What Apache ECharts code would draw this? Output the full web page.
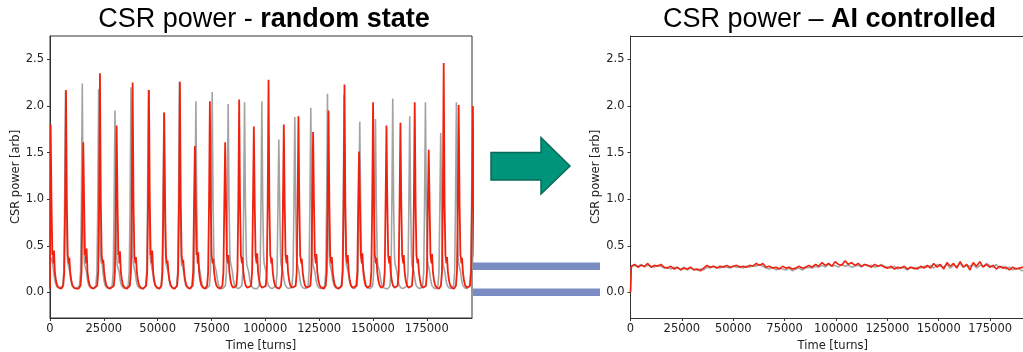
<!DOCTYPE html>
<html><head><meta charset="utf-8">
<script src="https://cdn.jsdelivr.net/npm/echarts@6/dist/echarts.min.js"></script>
<style>html,body{margin:0;padding:0;background:#fff}#c{width:1023px;height:352px}</style>
</head><body><div id="c"></div>
<script>
// ---- tick labels ----
const xTicks = [0, 25000, 50000, 75000, 100000, 125000, 150000, 175000];
const yTicks = [0, 0.5, 1.0, 1.5, 2.0, 2.5];
const levelMarks = [0.28, 0.0];

// ---- random state: burst peaks (turns, height) ----
const redPeakT = [300, 7430, 15450, 23200, 30950, 38380, 45950, 53050, 60330, 67300, 74260, 81360, 87860, 94680, 101500, 108600, 115400, 122200, 129350, 136770, 143550, 150050, 156270, 162760, 169400, 175900, 182860, 189820, 196400];
const redPeakV = [1.80, 2.17, 1.61, 2.35, 1.79, 2.25, 2.17, 1.93, 2.26, 1.57, 2.05, 1.61, 2.07, 1.78, 2.28, 1.80, 1.89, 1.72, 1.95, 2.23, 1.51, 2.04, 1.79, 1.82, 2.04, 1.53, 2.46, 2.01, 2.00];
const redBumpV = [0.45, 0.37, 0.47, 0.35, 0.44, 0.38, 0.45, 0.34, 0.35, 0.43, 0.36, 0.40, 0.38, 0.42, 0.37, 0.40, 0.36, 0.41, 0.38, 0.40, 0.42, 0.37, 0.39, 0.40, 0.36, 0.41, 0.38, 0.37, 0.35];

const grayPeakT = [7200, 14990, 22600, 30170, 37600, 45700, 52900, 60100, 67760, 75330, 82750, 90360, 98400, 106280, 113700, 121130, 128880, 136600, 143870, 151160, 159190, 167080, 174370, 181470, 188750, 196200];
const grayPeakV = [2.16, 2.24, 2.18, 1.95, 2.20, 2.17, 1.93, 2.26, 2.05, 2.15, 2.02, 2.04, 2.05, 1.64, 1.88, 1.98, 2.13, 2.12, 1.83, 1.86, 2.08, 1.89, 2.04, 1.71, 2.04, 2.00];
const grayBumpV = [0.32, 0.30, 0.34, 0.29, 0.31, 0.33, 0.30, 0.28, 0.32, 0.30, 0.33, 0.29, 0.31, 0.30, 0.32, 0.29, 0.31, 0.30, 0.33, 0.30, 0.31, 0.29, 0.32, 0.30, 0.31, 0.30];
const grayLead = [[0, 0.34], [700, 0.37], [1300, 0.30], [1900, 0.18], [2500, 0.10], [3200, 0.06], [4200, 0.045]];

// typical burst profile (offset in turns, value)
const riseShape = [[-2200, 0.04], [-1300, 0.07], [-800, 0.22], [-400, 0.95]];
const fallShape = [[400, 0.95], [800, 0.40]];
const bumpShape = [[1050, null], [1300, 0.31], [1550, null]];
const decayShape = [[1950, 0.22], [2450, 0.13], [3000, 0.075], [3800, 0.05], [4800, 0.04]];

// ---- AI controlled: samples every 1600 turns starting at 400 ----
const aiStep = 1600, aiStart = 400;
const aiRed = [0.28,0.30,0.27,0.29,0.28,0.31,0.27,0.29,0.28,0.30,
 0.27,0.26,0.28,0.25,0.27,0.24,0.26,0.25,0.27,0.24,
 0.25,0.23,0.26,
 0.29,0.27,0.28,0.26,0.28,0.27,0.29,0.27,0.28,0.29,0.27,0.28,0.27,0.29,
 0.28,0.31,0.29,0.31,
 0.27,0.28,0.26,0.27,0.25,0.28,0.26,0.27,0.25,0.26,0.28,0.26,0.27,0.29,
 0.27,0.30,0.28,0.32,0.29,0.31,0.28,0.33,0.30,0.29,0.34,0.30,0.32,0.29,
 0.31,0.28,0.30,0.29,0.27,0.30,0.28,0.29,0.27,
 0.26,0.28,0.25,0.27,0.26,0.28,0.25,0.27,0.26,0.25,0.28,0.26,
 0.29,0.26,0.31,0.27,0.30,0.25,0.32,0.28,0.31,0.26,0.33,0.27,0.30,0.24,0.32,0.28,0.33,0.27,0.30,
 0.27,0.29,0.25,0.28,0.26,0.27,0.24,0.27,0.25,0.26,0.27,0.24,0.26,0.25];
const aiGray = [0.27,0.29,0.28,0.30,0.27,0.29,0.28,0.27,0.29,0.28,
 0.26,0.27,0.25,0.27,0.26,0.25,0.27,0.24,0.26,0.25,
 0.24,0.25,0.24,
 0.27,0.26,0.28,0.27,0.26,0.28,0.27,0.26,0.28,0.27,0.28,0.26,0.28,0.27,
 0.29,0.28,0.30,0.28,
 0.26,0.25,0.27,0.24,0.26,0.25,0.24,0.26,0.23,0.25,0.26,0.24,0.26,0.27,
 0.26,0.28,0.27,0.29,0.27,0.30,0.28,0.29,0.27,0.30,0.28,0.29,0.27,0.28,
 0.29,0.27,0.30,0.28,0.29,0.27,0.28,0.30,0.28,
 0.27,0.26,0.28,0.25,0.27,0.26,0.24,0.27,0.25,0.27,0.26,0.28,
 0.27,0.29,0.26,0.30,0.28,0.27,0.30,0.26,0.29,0.28,0.31,0.27,0.29,0.28,0.30,0.26,0.29,0.28,0.31,
 0.29,0.27,0.30,0.26,0.28,0.25,0.27,0.24,0.26,0.25,0.23,0.26,0.24,0.25];

const X_MAX = 196000, X_MAX_VISIBLE_RIGHT = 191000, Y_MIN = -0.275, Y_MAX = 2.75;

function buildBursts(peakT, peakV, bumpV, lead) {
  const pts = lead.slice();
  for (let i = 0; i < peakT.length; i++) {
    const t0 = peakT[i];
    const prevEnd = pts.length ? pts[pts.length - 1][0] : -Infinity;
    const nextStart = i + 1 < peakT.length ? peakT[i + 1] + riseShape[0][0] : Infinity;
    riseShape.forEach(([dt, v]) => { if (t0 + dt > prevEnd) pts.push([t0 + dt, v]); });
    pts.push([t0, peakV[i]]);
    fallShape.forEach(([dt, v]) => pts.push([t0 + dt, v]));
    bumpShape.forEach(([dt, v]) => pts.push([t0 + dt, v === null ? bumpV[i] : v]));
    decayShape.forEach(([dt, v]) => { if (t0 + dt < nextStart - 200) pts.push([t0 + dt, v]); });
  }
  return pts;
}
function buildAI(vals) {
  return [[0, 0]].concat(vals.map((v, i) => [aiStart + i * aiStep, v]));
}

const FONT = 'DejaVu Sans';
const axisCol = '#333';
function xAx(gi, max, namePad) {
  return {
    type: 'value', gridIndex: gi, min: 0, max: max,
    name: 'Time [turns]', nameLocation: 'middle', nameGap: 20,
    nameTextStyle: { fontFamily: FONT, fontSize: 11.5, color: '#222', padding: namePad },
    axisLine: { show: true, onZero: false, lineStyle: { color: axisCol, width: 1 } },
    axisTick: { show: true, length: 3, lineStyle: { color: axisCol }, customValues: xTicks },
    axisLabel: { customValues: xTicks, formatter: v => String(v), fontFamily: FONT, fontSize: 11.5, color: '#222', margin: 5 },
    splitLine: { show: false }
  };
}
function yAx(gi) {
  return {
    type: 'value', gridIndex: gi, min: Y_MIN, max: Y_MAX,
    name: 'CSR power [arb]', nameLocation: 'middle', nameGap: 27,
    nameTextStyle: { fontFamily: FONT, fontSize: 11.5, color: '#222' },
    axisLine: { show: true, onZero: false, lineStyle: { color: axisCol, width: 1 } },
    axisTick: { show: true, length: 3, lineStyle: { color: axisCol }, customValues: yTicks },
    axisLabel: { customValues: yTicks, formatter: v => v.toFixed(1), fontFamily: FONT, fontSize: 11.5, color: '#222', margin: 6 },
    splitLine: { show: false }
  };
}
const RED = '#f0220f', GRAY = '#a3a3a3';
function lineSeries(gi, data, color, z, w) {
  return { type: 'line', xAxisIndex: gi, yAxisIndex: gi, data, showSymbol: false, symbol: 'none',
    lineStyle: { color, width: w }, z, clip: true, animation: false };
}

const chart = echarts.init(document.getElementById('c'));
chart.setOption({
  animation: false,
  grid: [
    { left: 50, top: 36, width: 422, height: 282, show: true, borderColor: axisCol, borderWidth: 1, containLabel: false, outerBoundsMode: 'none' },
    { left: 630.5, top: 36, width: 392.5, height: 282, show: false, containLabel: false, outerBoundsMode: 'none' }
  ],
  xAxis: [
    xAx(0, X_MAX, 0),
    xAx(1, X_MAX_VISIBLE_RIGHT, [0, 0, 0, 12]),
    { type: 'value', gridIndex: 1, position: 'top', min: 0, max: X_MAX_VISIBLE_RIGHT,
      axisLine: { show: true, onZero: false, lineStyle: { color: axisCol, width: 1 } },
      axisTick: { show: false }, axisLabel: { show: false }, splitLine: { show: false } }
  ],
  yAxis: [yAx(0), yAx(1)],
  series: [
    lineSeries(0, buildBursts(grayPeakT, grayPeakV, grayBumpV, grayLead), GRAY, 2, 1.6),
    lineSeries(0, buildBursts(redPeakT, redPeakV, redBumpV, [[0, 0.04]]), RED, 3, 1.8),
    lineSeries(1, buildAI(aiGray), GRAY, 2, 1.5),
    lineSeries(1, buildAI(aiRed), RED, 3, 1.6)
  ]
});

const titleRich = {
  a: { fontFamily: 'Liberation Sans, Arial', fontSize: 27, color: '#000' },
  b: { fontFamily: 'Liberation Sans, Arial', fontSize: 27, fontWeight: 'bold', color: '#000' }
};
const graphics = [
  { type: 'text', x: 264, y: 20, style: { text: '{a|CSR power - }{b|random state}', rich: titleRich, align: 'center', verticalAlign: 'middle' } },
  { type: 'text', x: 829.5, y: 20, style: { text: '{a|CSR power – }{b|AI controlled}', rich: titleRich, align: 'center', verticalAlign: 'middle' } },
  { type: 'polygon', shape: { points: [[491, 152.5], [541, 152.5], [541, 137.5], [570, 166], [541, 194], [541, 180], [491, 180]] },
    style: { fill: '#00957b', stroke: '#0b6a57', lineWidth: 1.5 } }
];
levelMarks.forEach(v => {
  const p = chart.convertToPixel({ xAxisIndex: 0, yAxisIndex: 0 }, [X_MAX, v]);
  graphics.push({ type: 'rect', shape: { x: p[0] + 1, y: p[1] - 3.75, width: 600 - p[0] - 1, height: 7.5 },
    style: { fill: '#7b8bc3' }, z: 10 });
});
chart.setOption({ graphic: graphics });
</script></body></html>
